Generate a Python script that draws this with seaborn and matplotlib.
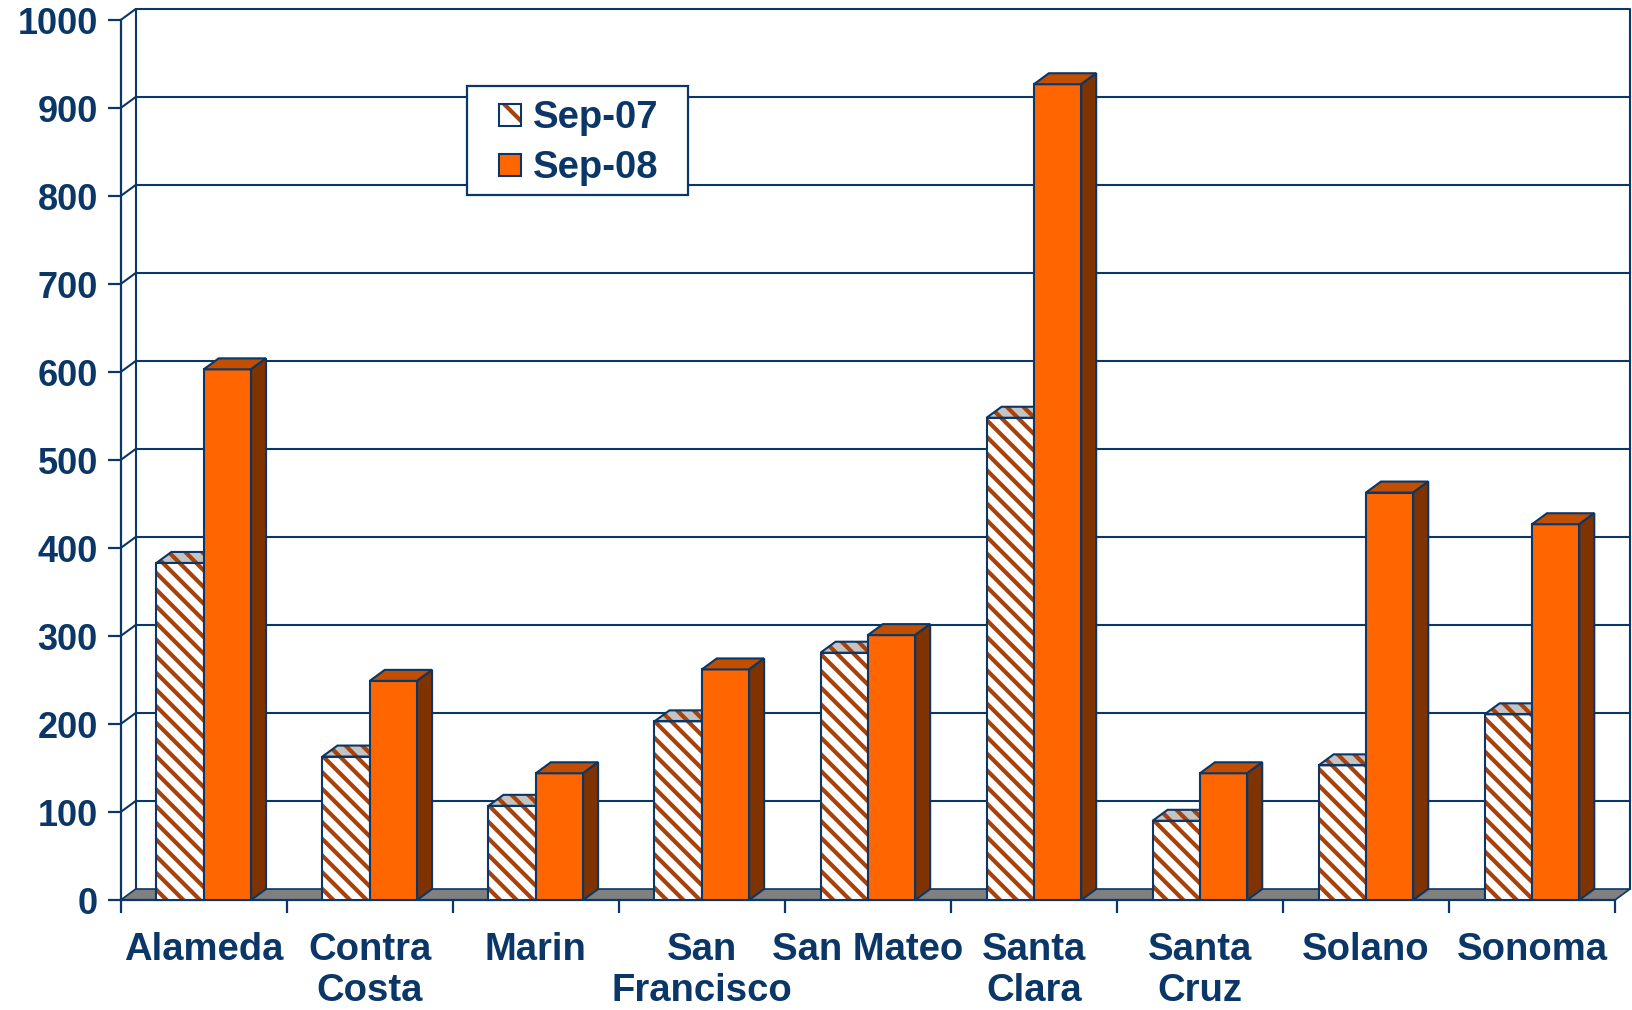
import numpy as np
import pandas as pd
import matplotlib
matplotlib.use("Agg")
import matplotlib.pyplot as plt
import seaborn as sns
from matplotlib.patches import Polygon, Rectangle, Patch
from matplotlib.legend_handler import HandlerBase

# ---------------- data ----------------
counties = ["Alameda", "Contra\nCosta", "Marin", "San\nFrancisco", "San Mateo",
            "Santa\nClara", "Santa\nCruz", "Solano", "Sonoma"]
sep07 = [383, 163, 107, 203, 281, 548, 90, 153, 211]
sep08 = [603, 249, 144, 262, 301, 927, 144, 463, 427]
series = ["Sep-07", "Sep-08"]
yticks = list(range(0, 1001, 100))

# ---------------- style ----------------
NAVY = "#0A3767"
ORANGE = "#FF6600"
ORANGE_TOP = "#C24E00"
ORANGE_SIDE = "#7F3300"
HATCH = "#A8420C"
GRAY_TOP = "#C4C4C4"
FLOOR = "#808080"
FS_X = 27.5
FS_Y = 26
FS_LEG = 27.5
HATCH_PAT = "\\\\"
XPAD = 23          # points between axis and first label line
LINE_STEP = 29.6   # points between label lines

sns.set_theme(style="white")
plt.rcParams["font.family"] = ["Liberation Sans", "DejaVu Sans"]
plt.rcParams["hatch.linewidth"] = 3.0

W, H = 1632, 1010
fig = plt.figure(figsize=(W / 100, H / 100), dpi=100)
fig.patch.set_facecolor("white")
L, R, T, B = 120.7, 1615, 20, 900  # front plane in pixels
ax = fig.add_axes([L / W, 1 - B / H, (R - L) / W, (B - T) / H])
ax.set_facecolor("none")

df = pd.DataFrame({
    "county": counties * 2,
    "year": [series[0]] * len(counties) + [series[1]] * len(counties),
    "value": sep07 + sep08,
})
sns.barplot(data=df, x="county", y="value", hue="year", order=counties,
            hue_order=series, palette=["white", ORANGE], width=0.57,
            saturation=1, errorbar=None, legend=False, ax=ax)

ax.set_xlim(-0.5, len(counties) - 0.5)
ax.set_ylim(0, 1000)
ax.set_xlabel("")
ax.set_ylabel("")

# depth offsets (15 px right, 11 px up) in data units
DX = 15 * len(counties) / (R - L)
DY = 11 * 1000 / (B - T)
x_lo, x_hi = -0.5, len(counties) - 0.5

# back wall gridlines + left wall diagonals
for v in yticks[1:]:
    ax.plot([x_lo, x_lo + DX, x_hi + DX], [v, v + DY, v + DY], color=NAVY,
            lw=1.5, zorder=1, clip_on=False, solid_capstyle="butt")
for xv in (x_lo + DX, x_hi + DX):
    ax.plot([xv, xv], [DY, 1000 + DY], color=NAVY, lw=1.5, zorder=1, clip_on=False)

# floor
ax.add_patch(Polygon([(x_lo, 0), (x_hi, 0), (x_hi + DX, DY), (x_lo + DX, DY)],
                     closed=True, facecolor=FLOOR, edgecolor=NAVY, lw=1.2,
                     zorder=1.5, clip_on=False))

# bars: 3D faces
for ci, cont in enumerate(ax.containers):
    z = 3 + ci
    for bar in cont:
        x0, w, h = bar.get_x(), bar.get_width(), bar.get_height()
        x1 = x0 + w
        top = [(x0, h), (x1, h), (x1 + DX, h + DY), (x0 + DX, h + DY)]
        side = [(x1, 0), (x1 + DX, DY), (x1 + DX, h + DY), (x1, h)]
        if ci == 0:
            bar.set_facecolor("white")
            bar.set_edgecolor(HATCH)
            bar.set_hatch(HATCH_PAT)
            bar.set_linewidth(0)
            bar.set_zorder(z)
            ax.add_patch(Polygon(top, closed=True, facecolor=GRAY_TOP, edgecolor=HATCH,
                                 hatch=HATCH_PAT, lw=0, zorder=z, clip_on=False))
            ax.add_patch(Polygon(top, closed=True, fill=False, edgecolor=NAVY,
                                 lw=1.5, zorder=z + 0.1, clip_on=False))
            ax.add_patch(Rectangle((x0, 0), w, h, fill=False, edgecolor=NAVY,
                                   lw=1.5, zorder=z + 0.1, clip_on=False))
        else:
            bar.set_facecolor(ORANGE)
            bar.set_edgecolor(NAVY)
            bar.set_linewidth(1.5)
            bar.set_zorder(z)
            ax.add_patch(Polygon(top, closed=True, facecolor=ORANGE_TOP, edgecolor=NAVY,
                                 lw=1.5, zorder=z, clip_on=False))
            ax.add_patch(Polygon(side, closed=True, facecolor=ORANGE_SIDE, edgecolor=NAVY,
                                 lw=1.5, zorder=z, clip_on=False))

# spines
for s in ["top", "right"]:
    ax.spines[s].set_visible(False)
for s in ["left", "bottom"]:
    ax.spines[s].set_color(NAVY)
    ax.spines[s].set_linewidth(1.6)

# ticks
ax.set_yticks(yticks)
ax.set_yticklabels([str(v) for v in yticks], fontsize=FS_Y, fontweight="bold", color=NAVY)
ax.tick_params(axis="y", left=True, length=9.5, width=1.6, color=NAVY, pad=7, direction="out")

first_lines = [c.split("\n")[0] for c in counties]
ax.set_xticks(range(len(counties)))
ax.set_xticklabels(first_lines, fontsize=FS_X, fontweight="bold", color=NAVY)
ax.set_xticks(np.arange(x_lo, x_hi + 0.01, 1), minor=True)
ax.tick_params(axis="x", which="major", bottom=True, length=0, pad=XPAD)
ax.tick_params(axis="x", which="minor", bottom=True, length=9, width=1.6, color=NAVY,
               direction="out")
ax.grid(False)

# second lines of the two-line category labels
for i, c in enumerate(counties):
    for k, line in enumerate(c.split("\n")[1:], start=1):
        ax.annotate(line, xy=(i, 0), xycoords=("data", "axes fraction"),
                    xytext=(0, -(XPAD + k * LINE_STEP)), textcoords="offset points",
                    ha="center", va="top", fontsize=FS_X, fontweight="bold",
                    color=NAVY, annotation_clip=False)


# legend
class SquareHandler(HandlerBase):
    def create_artists(self, legend, orig_handle, xdescent, ydescent, width,
                       height, fontsize, trans):
        s = 0.57 * fontsize
        x = -xdescent
        y = -ydescent + (height - s) / 2
        arts = []
        handles = orig_handle if isinstance(orig_handle, tuple) else (orig_handle,)
        for p in handles:
            r = Rectangle((x, y), s, s)
            r.update_from(p)
            r.set_transform(trans)
            arts.append(r)
        return arts


# legend frame (drawn as a box in figure pixels)
fig.add_artist(Rectangle((467 / W, 1 - 195 / H), (688 - 467) / W, (195 - 86) / H,
                         transform=fig.transFigure, facecolor="white",
                         edgecolor=NAVY, lw=1.6, zorder=4))

h07 = (Patch(facecolor="white", edgecolor=HATCH, hatch="\\", lw=0),
       Patch(facecolor="none", edgecolor=NAVY, lw=1.5))
h08 = Patch(facecolor=ORANGE, edgecolor=NAVY, lw=1.5)
leg = fig.legend(handles=[h07, h08], labels=series,
                 handler_map={tuple: SquareHandler(), Patch: SquareHandler()},
                 loc="upper left", bbox_to_anchor=(499 / W, 1 - 100.5 / H),
                 bbox_transform=fig.transFigure, borderaxespad=0, borderpad=0,
                 frameon=False,
                 prop={"weight": "bold", "size": FS_LEG}, labelcolor=NAVY,
                 handlelength=0.57, handleheight=0.57, handletextpad=0.32,
                 labelspacing=0.36)
leg.set_zorder(5)

fig.savefig("out.png", dpi=100, facecolor="white")
